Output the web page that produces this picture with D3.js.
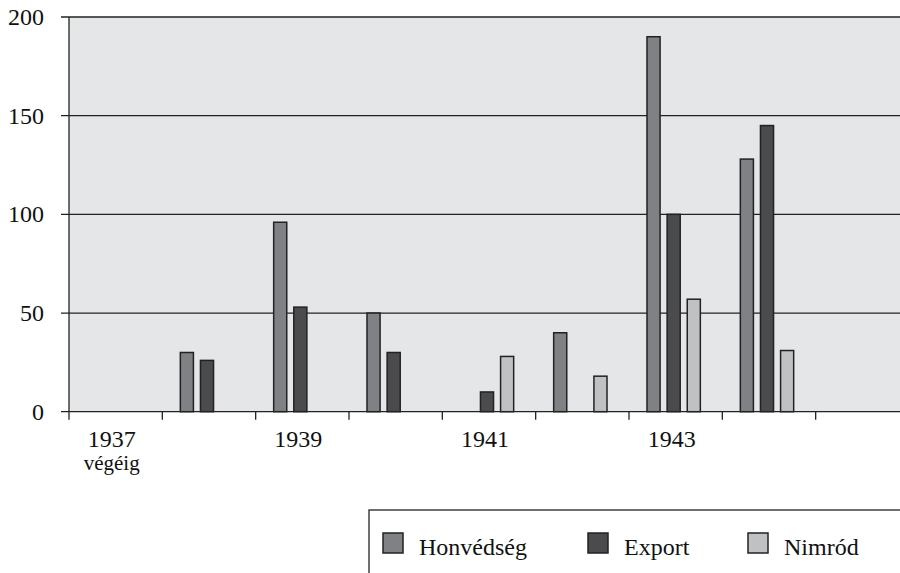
<html>
<head>
    <script src="https://cdn.jsdelivr.net/npm/d3@7"></script>
    <style>
        body { margin: 0; background: #fff; }
    </style>
</head>
<body>
<script>
    var width = 900;
    var height = 573;

    // categories (last band is empty in the source)
    var years = ["1937", "1938", "1939", "1940", "1941", "1942", "1943", "1944", "1945"];
    var yearLabels = ["1937", "", "1939", "", "1941", "", "1943", "", ""];
    var series = ["Honvédség", "Export", "Nimród"];
    var honvedseg = [0, 30, 96, 50, 0, 40, 190, 128, 0];
    var exportVals = [0, 26, 53, 30, 10, 0, 100, 145, 0];
    var nimrod = [0, 0, 0, 0, 28, 18, 57, 31, 0];
    var yTicks = [0, 50, 100, 150, 200];
    var colors = ["#808184", "#4b4b4d", "#c0c1c3"];

    var margin = { top: 17, left: 69, bottom: 161 };
    var plotRight = 909;
    var serif = "'Liberation Serif', 'Times New Roman', 'DejaVu Serif', serif";

    var svg = d3.select("body").append("svg")
        .attr("width", width)
        .attr("height", height)
        .attr("font-family", serif);

    var x0 = d3.scaleBand()
        .domain(years)
        .range([margin.left, plotRight]);

    var x1 = d3.scaleBand()
        .domain(series)
        .range([18, x0.bandwidth() - 22])
        .paddingInner(0.35);

    var y = d3.scaleLinear()
        .domain([0, 200])
        .range([height - margin.bottom - 0.3, margin.top]);

    // plot background
    svg.append("rect")
        .attr("x", margin.left)
        .attr("y", y(200))
        .attr("width", plotRight - margin.left)
        .attr("height", y(0) - y(200))
        .attr("fill", "#e5e6e8");

    // gridlines
    svg.append("g")
        .selectAll("line")
        .data(yTicks)
        .join("line")
            .attr("x1", margin.left - 8)
            .attr("x2", plotRight)
            .attr("y1", d => y(d))
            .attr("y2", d => y(d))
            .attr("stroke", "#222")
            .attr("stroke-width", 1.3);

    svg.append("g")
        .selectAll("text")
        .data(yTicks)
        .join("text")
            .attr("x", 44)
            .attr("y", d => y(d) + 8)
            .attr("text-anchor", "end")
            .attr("fill", "#111")
            .style("font-size", "24px")
            .text(d => d);

    // vertical axis line
    svg.append("line")
        .attr("x1", margin.left).attr("x2", margin.left)
        .attr("y1", y(200)).attr("y2", y(0) + 8)
        .attr("stroke", "#222")
        .attr("stroke-width", 1.3);

    // x ticks at band edges
    svg.append("g")
        .selectAll("line")
        .data(years.slice(1))
        .join("line")
            .attr("x1", d => x0(d))
            .attr("x2", d => x0(d))
            .attr("y1", y(0))
            .attr("y2", y(0) + 8)
            .attr("stroke", "#222")
            .attr("stroke-width", 1.3);

    svg.append("g")
        .selectAll("text")
        .data(years)
        .join("text")
            .attr("x", d => x0(d) + x0.bandwidth() / 2 - 4)
            .attr("y", y(0) + 35)
            .attr("text-anchor", "middle")
            .attr("fill", "#111")
            .style("font-size", "24px")
            .text((d, i) => yearLabels[i]);

    svg.append("text")
        .attr("x", x0("1937") + x0.bandwidth() / 2 - 4)
        .attr("y", y(0) + 58)
        .attr("text-anchor", "middle")
        .attr("fill", "#111")
        .style("font-size", "21px")
        .text("végéig");

    // bars
    var data = years.map((yr, i) => ({
        year: yr,
        values: [honvedseg[i], exportVals[i], nimrod[i]]
    }));

    var groups = svg.append("g")
        .selectAll("g")
        .data(data)
        .join("g")
            .attr("transform", d => "translate(" + x0(d.year) + ",0)");

    groups.selectAll("rect")
        .data(d => d.values.map((v, j) => ({ key: series[j], value: v, idx: j })).filter(e => e.value > 0))
        .join("rect")
            .attr("x", d => x1(d.key))
            .attr("width", x1.bandwidth())
            .attr("y", d => y(d.value))
            .attr("height", d => y(0) - y(d.value))
            .attr("fill", d => colors[d.idx])
            .attr("stroke", "#222")
            .attr("stroke-width", 1.5);

    // legend
    var legend = svg.append("g");
    legend.append("rect")
        .attr("x", 369)
        .attr("y", 510)
        .attr("width", 560)
        .attr("height", 100)
        .attr("fill", "#fff")
        .attr("stroke", "#222")
        .attr("stroke-width", 1.3);

    var legendX = [383, 588, 748];
    series.forEach((s, i) => {
        legend.append("rect")
            .attr("x", legendX[i])
            .attr("y", 533)
            .attr("width", 20)
            .attr("height", 20)
            .attr("fill", colors[i])
            .attr("stroke", "#222")
            .attr("stroke-width", 1.5);
        legend.append("text")
            .attr("x", legendX[i] + 36)
            .attr("y", 555)
            .attr("fill", "#111")
            .style("font-size", "24px")
            .text(s);
    });
</script>
</body>
</html>
